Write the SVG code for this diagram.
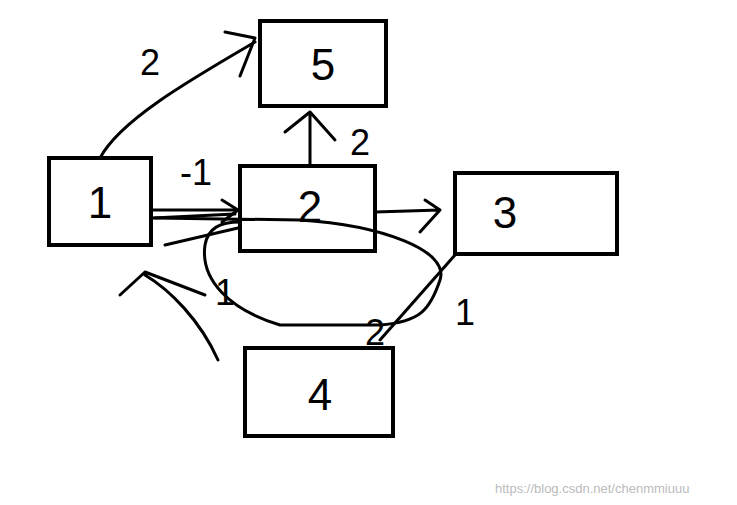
<svg xmlns="http://www.w3.org/2000/svg" width="737" height="505" viewBox="0 0 737 505">
<style>
.b{fill:#fff;stroke:#000;stroke-width:4}
.c{fill:none;stroke:#000;stroke-width:3;stroke-linecap:round;stroke-linejoin:round}
.t{font-family:"Liberation Sans",sans-serif;font-size:44px;fill:#000}
.l{font-family:"Liberation Sans",sans-serif;font-size:36px;fill:#000}
</style>
<rect width="737" height="505" fill="#fff"/>
<g id="connectors">
<path class="c" d="M100,158 C120,120 190,80 255,42"/>
<path class="c" d="M225,32 L255,38 L240,76"/>
<path class="c" d="M153,210 L235,210 M153,218 L235,214"/>
<path class="c" d="M222,200 L238,210 L222,222"/>
<path class="c" d="M310,165 L310,112 M285,132 L310,112 L335,140"/>
<path class="c" d="M375,212 L440,210 M425,200 L440,210 L420,232"/>
<path class="c" d="M455,255 L380,340"/>
<path class="c" d="M155,218 L300,220 C380,225 450,250 440,280 C430,310 420,322 380,325 L280,325 C230,310 200,280 205,245 C208,228 220,222 240,222"/>
<path class="c" d="M165,245 L238,228"/>
<path class="c" d="M218,360 C200,320 170,290 145,275 M120,295 L145,272 L205,295"/>
</g>
<g id="labels">
<text class="l" x="140" y="75">2</text>
<text class="l" x="180" y="185">-1</text>
<text class="l" x="350" y="155">2</text>
<text class="l" x="455" y="325" font-size="30">1</text>
<text class="l" x="365" y="345" font-size="28">2</text>
<text class="l" x="215" y="305" font-size="30">1</text>
</g>
<g id="n5"><rect class="b" x="260" y="21" width="126" height="85"/><text class="t" x="323" y="80" text-anchor="middle">5</text></g>
<g id="n1"><rect class="b" x="49" y="158" width="102" height="87"/><text class="t" x="100" y="218" text-anchor="middle">1</text></g>
<g id="n2"><rect class="b" x="240" y="166" width="135" height="85" fill="none" style="fill:none"/><text class="t" x="310" y="222" text-anchor="middle">2</text></g>
<g id="n3"><rect class="b" x="455" y="173" width="162" height="81"/><text class="t" x="505" y="228" text-anchor="middle">3</text></g>
<g id="n4"><rect class="b" x="245" y="348" width="148" height="88"/><text class="t" x="320" y="410" text-anchor="middle">4</text></g>
<text x="495" y="493" font-family="Liberation Sans,sans-serif" font-size="13" fill="#bbb">https://blog.csdn.net/chenmmiuuu</text>
</svg>
